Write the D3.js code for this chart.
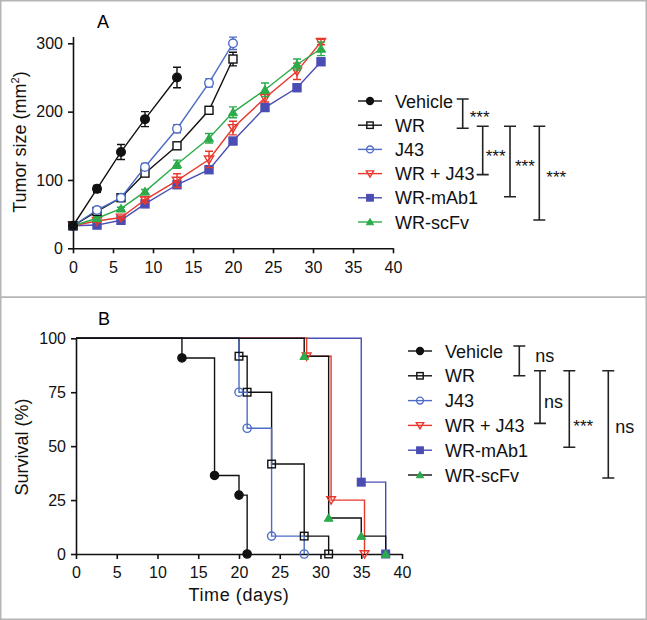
<!DOCTYPE html>
<html><head><meta charset="utf-8">
<script src="https://cdn.jsdelivr.net/npm/d3@7"></script>
<style>
body{margin:0;background:#fff;}
svg{display:block;font-family:"Liberation Sans",Arial,sans-serif;}
</style></head>
<body>
<script>
// ---------- DATA ----------
const seriesNames = ["Vehicle","WR","J43","WR + J43","WR-mAb1","WR-scFv"];
const seriesColors = ["#111111","#111111","#4d6cc6","#e8382c","#4a4db3","#2cab4a"];
const survLineColors = ["#111111","#111111","#4d6cc6","#e8382c","#4a4db3","#111111"];
const seriesShapes = ["circleF","squareO","circleO","triDownO","squareF","triUpF"];

// Panel A: tumor size (mm²) by day
const daysVehicle = [0,3,6,9,13];
const daysWR = [0,3,6,9,13,17,20];
const daysJ43 = [0,3,6,9,13,17,20];
const daysLong = [0,3,6,9,13,17,20,24,28,31];
const sizeVehicle = [33,87,141,189,250];
const errVehicle  = [0,5,11,11,15];
const sizeWR      = [33,54,74,110,150,202,277];
const errWR       = [0,3,3,4,4,5,10];
const sizeJ43     = [33,56,74,119,175,242,300];
const errJ43      = [0,3,3,5,6,6,9];
const sizeWRJ43   = [33,40,45,71,99,130,176,220,259,302];
const errWRJ43    = [0,2,2,4,10,12,10,6,12,4];
const sizeMAb1    = [33,34,41,65,93,115,157,206,235,273];
const errMAb1     = [0,1,2,3,5,3,3,3,3,4];
const sizeScFv    = [33,44,58,83,123,161,199,232,269,292];
const errScFv     = [0,2,2,3,6,7,8,10,8,10];

// Panel B: survival (%) step events
const survTVehicle = [0,13,17,20,21];
const survVVehicle = [100,90.9,36.4,27.3,0];
const survTWR      = [0,20,21,24,28,31];
const survVWR      = [100,91.7,75,41.7,8.3,0];
const survTJ43     = [0,20,21,24,28];
const survVJ43     = [100,75,58.3,8.3,0];
const survTWRJ43   = [0,28.3,31.3,35.4];
const survVWRJ43   = [100,91.7,25,0];
const survTMAb1    = [0,35,38];
const survVMAb1    = [100,33.3,0];
const survTScFv    = [0,28,31,35,38];
const survVScFv    = [100,91.7,16.7,8.3,0];

const xTicks = [0,5,10,15,20,25,30,35,40];
const yTicksA = [0,100,200,300];
const yTicksB = [0,25,50,75,100];

// significance comparisons: [fromRow, toRow, label]
const sigA = [[0,1,"***"],[1,3,"***"],[1,4,"***"],[1,5,"***"]];
const sigB = [[0,1,"ns"],[1,3,"ns"],[1,4,"***"],[1,5,"ns"]];

// ---------- DRAW ----------
const W=647,H=620;
const svg=d3.select("body").append("svg").attr("width",W).attr("height",H);

// panel frames
svg.append("rect").attr("x",0.75).attr("y",0.75).attr("width",W-1.5).attr("height",296.5)
  .attr("fill","none").attr("stroke","#b5b5b5").attr("stroke-width",1.5);
svg.append("rect").attr("x",0.75).attr("y",297.25).attr("width",W-1.5).attr("height",H-298)
  .attr("fill","none").attr("stroke","#b5b5b5").attr("stroke-width",1.5);

function marker(g, shape, color, x, y, s){
  const sz = s||1;
  if(shape==="circleF"||shape==="circleO"){
    g.append("circle").attr("cx",x).attr("cy",y).attr("r",4.3*sz)
      .attr("fill",shape==="circleF"?color:"none").attr("stroke",color).attr("stroke-width",1.4);
  } else if(shape==="squareF"||shape==="squareO"){
    const h=4*sz;
    g.append("rect").attr("x",x-h).attr("y",y-h).attr("width",2*h).attr("height",2*h)
      .attr("fill",shape==="squareF"?color:"none").attr("stroke",color).attr("stroke-width",1.4);
  } else if(shape==="triDownO"){
    const h=4.6*sz;
    g.append("path").attr("d",`M${x-h},${y-h*0.75}L${x+h},${y-h*0.75}L${x},${y+h*0.95}Z`)
      .attr("fill","none").attr("stroke",color).attr("stroke-width",1.4);
  } else if(shape==="triUpF"){
    const h=4.6*sz;
    g.append("path").attr("d",`M${x-h},${y+h*0.75}L${x+h},${y+h*0.75}L${x},${y-h*0.95}Z`)
      .attr("fill",color).attr("stroke",color).attr("stroke-width",1);
  }
}

function styleAxis(g){
  g.selectAll("path,line").attr("stroke","#111").attr("stroke-width",1.6);
  g.selectAll("text").attr("font-size",16).attr("fill","#111").attr("font-family","Liberation Sans,Arial,sans-serif");
}

// ---- Panel A ----
const xA=d3.scaleLinear().domain([0,40]).range([73,393]);
const yA=d3.scaleLinear().domain([0,310]).range([248.3,248.3-310*0.6833]);
const gA=svg.append("g");
gA.append("g").attr("transform",`translate(0,${yA(0)})`)
  .call(d3.axisBottom(xA).tickValues(xTicks).tickSize(5).tickSizeOuter(0).tickPadding(8)).call(styleAxis);
gA.append("g").attr("transform",`translate(${xA(0)},0)`)
  .call(d3.axisLeft(yA).tickValues(yTicksA).tickSize(5).tickSizeOuter(0).tickPadding(5)).call(styleAxis);
gA.append("text").attr("x",103).attr("y",28).attr("text-anchor","middle").attr("font-size",18).text("A");
gA.append("text").attr("transform","translate(26,142) rotate(-90)").attr("text-anchor","middle")
  .attr("font-size",18).attr("fill","#111").html('Tumor size (mm<tspan dy="-7" font-size="11">2</tspan><tspan dy="7">)</tspan>');

const seriesA=[
  {x:daysVehicle,y:sizeVehicle,e:errVehicle,i:0},
  {x:daysWR,y:sizeWR,e:errWR,i:1},
  {x:daysJ43,y:sizeJ43,e:errJ43,i:2},
  {x:daysLong,y:sizeWRJ43,e:errWRJ43,i:3},
  {x:daysLong,y:sizeMAb1,e:errMAb1,i:4},
  {x:daysLong,y:sizeScFv,e:errScFv,i:5}
];
const lineA=d3.line().x(d=>xA(d[0])).y(d=>yA(d[1]));
const drawOrderA=[4,3,5,1,2,0];
drawOrderA.forEach(k=>{
  const s=seriesA[k]; const c=seriesColors[s.i];
  const pts=s.x.map((d,j)=>[d,s.y[j],s.e[j]]);
  const g=gA.append("g");
  g.append("path").attr("d",lineA(pts)).attr("fill","none").attr("stroke",c).attr("stroke-width",1.4);
  pts.forEach(p=>{
    if(p[2]>0){
      const x=xA(p[0]);
      g.append("path").attr("d",`M${x},${yA(p[1]-p[2])}V${yA(p[1]+p[2])}M${x-4},${yA(p[1]-p[2])}H${x+4}M${x-4},${yA(p[1]+p[2])}H${x+4}`)
        .attr("stroke",c).attr("stroke-width",1.4).attr("fill","none");
    }
  });
  pts.forEach(p=>{
    const shp=seriesShapes[s.i];
    if(shp.endsWith("O")){
      if(shp==="circleO") g.append("circle").attr("cx",xA(p[0])).attr("cy",yA(p[1])).attr("r",4.3).attr("fill","#fff");
      else if(shp==="squareO") g.append("rect").attr("x",xA(p[0])-4).attr("y",yA(p[1])-4).attr("width",8).attr("height",8).attr("fill","#fff");
    }
    marker(g,shp,c,xA(p[0]),yA(p[1]));
  });
});

// legend A
const legA=d3.scaleLinear().domain([0,5]).range([101,222]);
seriesNames.forEach((n,i)=>{
  const y=legA(i);
  svg.append("line").attr("x1",358).attr("x2",382).attr("y1",y).attr("y2",y)
    .attr("stroke",seriesColors[i]).attr("stroke-width",1.4);
  marker(svg,seriesShapes[i],seriesColors[i],370,y,0.8);
  svg.append("text").attr("x",395).attr("y",y+6.5).attr("font-size",18).attr("fill","#111").text(n);
});

function brackets(list, rowScale, xs, topOff, botOff, labDx, labDy){
  list.forEach((b,k)=>{
    const y1=rowScale(b[0])+topOff[k], y2=rowScale(b[1])+botOff[k], x=xs[k];
    svg.append("path").attr("d",`M${x-6},${y1}H${x+6}M${x},${y1}V${y2}M${x-6},${y2}H${x+6}`)
      .attr("stroke","#222").attr("stroke-width",1.6).attr("fill","none");
    const ym=(y1+y2)/2+labDy[k];
    const isStar=b[2]==="***";
    svg.append("text").attr("x",x+labDx[k]).attr("y",isStar?ym+10:ym+5)
      .attr("font-size",isStar?17:18).attr("fill","#111").text(b[2]);
  });
}
brackets(sigA, legA, [462.7,482.7,510,539.3], [-2,1,1,1], [3,1,-1,-2], [7,3,5,7], [-1,2,0,0]);

// ---- Panel B ----
const xB=d3.scaleLinear().domain([0,40]).range([76,402]);
const yB=d3.scaleLinear().domain([0,100]).range([554,338.3]);
const gB=svg.append("g");
gB.append("g").attr("transform",`translate(0,${yB(0)})`)
  .call(d3.axisBottom(xB).tickValues(xTicks).tickSize(5).tickSizeOuter(0).tickPadding(8)).call(styleAxis);
gB.append("g").attr("transform",`translate(${xB(0)},0)`)
  .call(d3.axisLeft(yB).tickValues(yTicksB).tickSize(5).tickSizeOuter(0).tickPadding(5)).call(styleAxis);
gB.append("text").attr("x",104).attr("y",325).attr("text-anchor","middle").attr("font-size",18).text("B");
gB.append("text").attr("transform","translate(28,447) rotate(-90)").attr("text-anchor","middle")
  .attr("font-size",18).attr("fill","#111").text("Survival (%)");
gB.append("text").attr("x",239).attr("y",601).attr("text-anchor","middle")
  .attr("font-size",18).attr("letter-spacing",0.6).attr("fill","#111").text("Time (days)");

const seriesB=[
  {t:survTVehicle,v:survVVehicle,i:0},
  {t:survTWR,v:survVWR,i:1},
  {t:survTJ43,v:survVJ43,i:2},
  {t:survTWRJ43,v:survVWRJ43,i:3},
  {t:survTMAb1,v:survVMAb1,i:4},
  {t:survTScFv,v:survVScFv,i:5}
];
const stepB=d3.line().x(d=>xB(d[0])).y(d=>yB(d[1])).curve(d3.curveStepAfter);
const drawOrderB=[4,3,1,2,5,0];
drawOrderB.forEach(k=>{
  const s=seriesB[k];
  const pts=s.t.map((d,j)=>[d,s.v[j]]);
  gB.append("path").attr("d",stepB(pts)).attr("fill","none").attr("stroke",survLineColors[s.i]).attr("stroke-width",1.4);
});
drawOrderB.forEach(k=>{
  const s=seriesB[k];
  s.t.forEach((d,j)=>{ if(j>0) marker(gB,seriesShapes[s.i],seriesColors[s.i],xB(d),yB(s.v[j]),0.95); });
});

// legend B
const legB=d3.scaleLinear().domain([0,5]).range([351,475]);
seriesNames.forEach((n,i)=>{
  const y=legB(i);
  svg.append("line").attr("x1",408).attr("x2",432).attr("y1",y).attr("y2",y)
    .attr("stroke",survLineColors[i]).attr("stroke-width",1.4);
  marker(svg,seriesShapes[i],seriesColors[i],420,y,0.8);
  svg.append("text").attr("x",445).attr("y",y+6.5).attr("font-size",18).attr("fill","#111").text(n);
});
brackets(sigB, legB, [519.3,540,569.3,608.3], [-5,-5,-5,-5], [0,-2,-3,3], [16,4,4,7], [-4,6,13,4]);
</script>
</body></html>
